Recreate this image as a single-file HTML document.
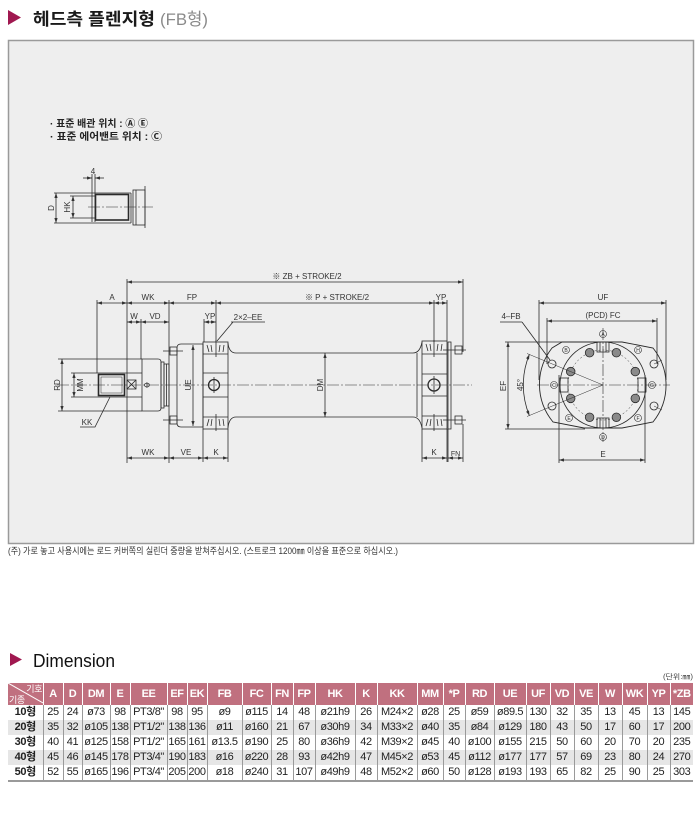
<!DOCTYPE html>
<html><head><meta charset="utf-8">
<style>
html,body{margin:0;padding:0;background:#fff;}
body{width:700px;height:840px;position:relative;overflow:hidden;font-family:"Liberation Sans","Noto Sans CJK KR",sans-serif;}
svg text{font-family:"Liberation Sans","Noto Sans CJK KR",sans-serif;}
.t{font-size:8px;fill:#333;stroke:none;text-anchor:middle;}
.d{marker-start:url(#a);marker-end:url(#a);}
.e{marker-end:url(#a);}
.c{stroke-dasharray:12 2 2 2;stroke-width:0.6;}
table{position:absolute;left:8px;top:683px;width:685px;border-collapse:collapse;table-layout:fixed;}
th{background:#c0707f;color:#fff;font-size:11px;font-weight:bold;height:22px;padding:0;border-right:1px solid #fff;text-align:center;letter-spacing:-0.4px;}
td{height:15px;padding:0;font-size:11px;line-height:15px;text-align:center;color:#222;border-right:1px solid #9a9a9a;white-space:nowrap;overflow:hidden;letter-spacing:-0.4px;}
td:first-child{font-weight:bold;}
tr.g td{background:#e6e6e6;}
tr.l td{border-bottom:2px solid #9a9a9a;}
th:last-child,td:last-child{border-right:none;}
</style></head>
<body>
<svg width="700" height="840" style="position:absolute;left:0;top:0" xmlns="http://www.w3.org/2000/svg">
<defs>
<marker id="a" viewBox="0 0 6 4" refX="6" refY="2" markerWidth="5" markerHeight="3.4" orient="auto-start-reverse" markerUnits="userSpaceOnUse"><path d="M0,0 L6,2 L0,4 z" fill="#333"/></marker>
</defs>

<!-- Title -->
<polygon points="8,10 21,17.5 8,25" fill="#a01850"/>
<text x="33" y="25" font-size="17" font-weight="bold" fill="#1a1a1a" textLength="122" lengthAdjust="spacingAndGlyphs">헤드측 플렌지형</text>
<text x="160" y="25" font-size="17" fill="#8a8a8a" textLength="48" lengthAdjust="spacingAndGlyphs">(FB형)</text>

<!-- Box -->
<rect x="8.5" y="40.5" width="685" height="503" fill="#eeeeee" stroke="#9a9a9a" stroke-width="1.5"/>

<!-- Notes in box -->
<text x="50" y="127" font-size="10" font-weight="bold" fill="#222" textLength="98" lengthAdjust="spacingAndGlyphs">· 표준 배관 위치 : Ⓐ Ⓔ</text>
<text x="50" y="140" font-size="10" font-weight="bold" fill="#222" textLength="112" lengthAdjust="spacingAndGlyphs">· 표준 에어밴트 위치 : Ⓒ</text>

<g stroke="#2a2a2a" stroke-width="0.8" fill="none">
<!-- aux drawing -->
<line class="e" x1="83" y1="178" x2="92" y2="178"/>
<line class="e" x1="104" y1="178" x2="95" y2="178"/>
<line x1="92" y1="174" x2="92" y2="222"/>
<line x1="95" y1="174" x2="95" y2="222"/>
<line x1="54" y1="193" x2="131" y2="193"/>
<line x1="54" y1="223" x2="131" y2="223"/>
<line class="d" x1="56" y1="193" x2="56" y2="223"/>
<line x1="70" y1="196" x2="95" y2="196"/>
<line x1="70" y1="218" x2="95" y2="218"/>
<line class="d" x1="73" y1="196" x2="73" y2="218"/>
<rect x="95.5" y="194.5" width="33" height="25.5" stroke-width="1.6"/>
<line x1="131" y1="193" x2="131" y2="223"/>
<rect x="133" y="190" width="12" height="35"/>
<line x1="136" y1="190" x2="136" y2="225"/>
<line x1="145" y1="186" x2="145" y2="228"/>
<line class="c" x1="88" y1="207" x2="153" y2="207"/>

<!-- main drawing -->
<line class="c" x1="57" y1="385" x2="472" y2="385"/>
<line class="d" x1="127" y1="282" x2="463" y2="282"/>
<line x1="127" y1="279" x2="127" y2="463"/>
<line x1="463" y1="279" x2="463" y2="352"/>
<line class="d" x1="97" y1="303" x2="127" y2="303"/>
<line x1="97" y1="300" x2="97" y2="373"/>
<line class="d" x1="127" y1="303" x2="169" y2="303"/>
<line x1="169" y1="300" x2="169" y2="463"/>
<line class="d" x1="169" y1="303" x2="216" y2="303"/>
<line x1="216" y1="300" x2="216" y2="342"/>
<line class="d" x1="216" y1="303" x2="434" y2="303"/>
<line class="d" x1="434" y1="303" x2="447" y2="303"/>
<line x1="434" y1="300" x2="434" y2="342"/>
<line x1="447" y1="300" x2="447" y2="341"/>
<line class="d" x1="127" y1="322" x2="141" y2="322"/>
<line class="d" x1="141" y1="322" x2="169" y2="322"/>
<line x1="141" y1="319" x2="141" y2="359"/>
<line class="d" x1="204" y1="322" x2="216" y2="322"/>
<line x1="204" y1="319" x2="204" y2="342"/>
<line x1="231" y1="322" x2="265" y2="322"/>
<line x1="233" y1="322" x2="217" y2="341"/>

<!-- rod -->
<line x1="97" y1="373" x2="142" y2="373"/>
<line x1="97" y1="397" x2="142" y2="397"/>
<rect x="98.5" y="374.5" width="26" height="21" stroke-width="1.6"/>
<rect x="101" y="377" width="21" height="16" stroke-width="0.5"/>
<rect x="127" y="380" width="9" height="9"/>
<path d="M127,380 L136,389 M136,380 L127,389"/>
<line x1="58" y1="359" x2="142" y2="359"/>
<line x1="58" y1="411" x2="142" y2="411"/>
<line class="d" x1="62" y1="359" x2="62" y2="411"/>
<line x1="71" y1="373" x2="97" y2="373"/>
<line x1="71" y1="397" x2="97" y2="397"/>
<line class="d" x1="74" y1="373" x2="74" y2="397"/>
<polyline points="110,397 95,427 80,427"/>
<!-- rod cover -->
<path d="M142,359 H158 Q161,359 161,362 V408 Q161,411 158,411 H142 Z"/>
<rect x="161" y="362" width="3" height="46"/>
<rect x="164" y="364" width="5" height="42"/>
<line x1="166.5" y1="364" x2="166.5" y2="406"/>
<rect x="170" y="347" width="7" height="8"/>
<rect x="170" y="416" width="7" height="8"/>
<line x1="163" y1="351" x2="183" y2="351"/>
<line x1="163" y1="420" x2="183" y2="420"/>
<path d="M181,344 H203 V427 H181 Q177,427 177,423 V348 Q177,344 181,344 Z"/>
<line class="d" x1="193" y1="345" x2="193" y2="426"/>
<!-- left flange -->
<rect x="203" y="342" width="25" height="87"/>
<line x1="203" y1="354" x2="228" y2="354"/>
<line x1="203" y1="417" x2="228" y2="417"/>
<line x1="203" y1="373" x2="228" y2="373"/>
<line x1="203" y1="397" x2="228" y2="397"/>
<circle cx="214" cy="385" r="5.5" stroke-width="1.3"/>
<line x1="214" y1="377" x2="214" y2="393"/>
<path d="M207,345 L209,352 M211,345 L212,352 M216,340 L216,357 M220,345 L219,352 M224,345 L223,352"/>
<path d="M207,426 L209,419 M211,426 L212,419 M216,414 L216,431 M220,426 L219,419 M224,426 L223,419"/>
<!-- tube -->
<path d="M228,343 Q229,353 236,353 H413 Q420,353 422,342"/>
<path d="M228,428 Q229,417 236,417 H413 Q420,417 422,428"/>
<line x1="417" y1="353" x2="417" y2="417"/>
<line class="d" x1="325" y1="353" x2="325" y2="417"/>
<!-- right flange -->
<rect x="422" y="341" width="25" height="88"/>
<line x1="422" y1="354" x2="447" y2="354"/>
<line x1="422" y1="416" x2="447" y2="416"/>
<line x1="422" y1="374" x2="447" y2="374"/>
<line x1="422" y1="396" x2="447" y2="396"/>
<circle cx="434" cy="385" r="6" stroke-width="1.3"/>
<line x1="434" y1="376" x2="434" y2="394"/>
<path d="M426,344 L428,351 M430,344 L431,351 M434,340 L434,357 M438,344 L437,351 M442,344 L441,351"/>
<path d="M426,426 L428,419 M430,426 L431,419 M434,414 L434,431 M438,426 L437,419 M442,426 L441,419"/>
<rect x="448" y="342" width="3" height="87"/>
<rect x="455" y="346" width="7" height="8"/>
<rect x="455" y="416" width="7" height="8"/>
<line x1="443" y1="350" x2="466" y2="350"/>
<line x1="443" y1="420" x2="466" y2="420"/>
<!-- bottom dims -->
<line x1="448" y1="429" x2="448" y2="462"/>
<line x1="463" y1="424" x2="463" y2="462"/>
<line class="d" x1="448" y1="458" x2="463" y2="458"/>
<line x1="422" y1="429" x2="422" y2="462"/>
<line x1="447" y1="429" x2="447" y2="462"/>
<line class="d" x1="422" y1="458" x2="447" y2="458"/>
<line class="d" x1="127" y1="458" x2="169" y2="458"/>
<line class="d" x1="169" y1="458" x2="203" y2="458"/>
<line class="d" x1="203" y1="458" x2="228" y2="458"/>
<line x1="203" y1="429" x2="203" y2="462"/>
<line x1="228" y1="429" x2="228" y2="462"/>

<!-- right view -->
<line class="d" x1="539" y1="303" x2="666" y2="303"/>
<line x1="539" y1="300" x2="539" y2="380"/>
<line x1="666" y1="300" x2="666" y2="380"/>
<line class="d" x1="547" y1="321" x2="657" y2="321"/>
<line x1="547" y1="318" x2="547" y2="364"/>
<line x1="657" y1="318" x2="657" y2="364"/>
<line x1="505" y1="342" x2="565" y2="342"/>
<line x1="505" y1="429" x2="585" y2="429"/>
<line class="d" x1="508" y1="342" x2="508" y2="429"/>
<line x1="500" y1="322" x2="522" y2="322"/>
<line x1="522" y1="322" x2="550" y2="360"/>
<path d="M562,342 L622,342 L653,348 A59,59 0 0 1 653,422 L622,428 L584,428 L553,422 A59,59 0 0 1 552,348 Z" stroke-width="0.9"/>
<circle cx="603" cy="385" r="43"/>
<circle cx="603" cy="385" r="35" stroke-dasharray="2 2" stroke-width="0.5"/>
<rect x="597" y="342" width="12" height="10"/>
<line x1="600" y1="342" x2="600" y2="352"/><line x1="606" y1="342" x2="606" y2="352"/>
<rect x="597" y="418" width="12" height="10"/>
<line x1="600" y1="418" x2="600" y2="428"/><line x1="606" y1="418" x2="606" y2="428"/>
<rect x="560" y="378" width="8" height="14"/>
<rect x="638" y="378" width="8" height="14"/>
<g fill="#8a8a8a">
<circle cx="635.3" cy="398.4" r="4.3"/><circle cx="616.4" cy="417.3" r="4.3"/>
<circle cx="589.6" cy="417.3" r="4.3"/><circle cx="570.7" cy="398.4" r="4.3"/>
<circle cx="570.7" cy="371.6" r="4.3"/><circle cx="589.6" cy="352.7" r="4.3"/>
<circle cx="616.4" cy="352.7" r="4.3"/><circle cx="635.3" cy="371.6" r="4.3"/>
</g>
<circle cx="552" cy="364" r="4"/><circle cx="552" cy="406" r="4"/>
<circle cx="654" cy="364" r="4"/><circle cx="654" cy="406" r="4"/>
<line x1="603" y1="385" x2="527" y2="353.5" stroke-width="0.5"/>
<line x1="603" y1="385" x2="527" y2="416.5" stroke-width="0.5"/>
<line x1="654" y1="364" x2="662" y2="360" stroke-width="0.5"/>
<line x1="654" y1="406" x2="662" y2="410" stroke-width="0.5"/>
<path class="d" d="M529.4,354.4 A80,80 0 0 0 529.4,415.6"/>
<line class="c" x1="537" y1="385" x2="670" y2="385"/>
<line class="c" x1="603" y1="328" x2="603" y2="442"/>
<line x1="559" y1="375" x2="559" y2="463"/>
<line x1="645" y1="375" x2="645" y2="463"/>
<line class="d" x1="559" y1="460" x2="645" y2="460"/>
<g stroke-width="0.6">
<circle cx="603" cy="334" r="3.5"/><circle cx="603" cy="437" r="3.5"/>
<circle cx="554" cy="385" r="3.5"/><circle cx="652" cy="385" r="3.5"/>
<circle cx="566" cy="350" r="3.5"/><circle cx="638" cy="350" r="3.5"/>
<circle cx="569" cy="418" r="3.5"/><circle cx="638" cy="418" r="3.5"/>
</g>
</g>

<!-- labels -->
<g class="t">
<text class="t" x="93" y="174">4</text>
<text class="t" transform="translate(51,208) rotate(-90)" dy="3">D</text>
<text class="t" transform="translate(67,207) rotate(-90)" dy="3">HK</text>
<text class="t" x="307" y="279">※ ZB + STROKE/2</text>
<text class="t" x="112" y="300">A</text>
<text class="t" x="148" y="300">WK</text>
<text class="t" x="192" y="300">FP</text>
<text class="t" x="337" y="300">※ P + STROKE/2</text>
<text class="t" x="441" y="300">YP</text>
<text class="t" x="134" y="319">W</text>
<text class="t" x="155" y="319">VD</text>
<text class="t" x="210" y="319">YP</text>
<text class="t" x="248" y="320">2×2–EE</text>
<text class="t" transform="translate(57,385) rotate(-90)" dy="3">RD</text>
<text class="t" transform="translate(80,385) rotate(-90)" dy="3">MM</text>
<text class="t" x="87" y="425">KK</text>
<text class="t" x="147" y="388">Φ</text>
<text class="t" transform="translate(188,385) rotate(-90)" dy="3">UE</text>
<text class="t" transform="translate(320,385) rotate(-90)" dy="3">DM</text>
<text class="t" x="148" y="455">WK</text>
<text class="t" x="186" y="455">VE</text>
<text class="t" x="216" y="455">K</text>
<text class="t" x="434" y="455">K</text>
<text class="t" x="455.5" y="456" style="font-size:7px">FN</text>
<text class="t" x="603" y="300">UF</text>
<text class="t" x="603" y="318">(PCD) FC</text>
<text class="t" x="511" y="319">4–FB</text>
<text class="t" transform="translate(503,386) rotate(-90)" dy="3">EF</text>
<text class="t" transform="translate(520,385) rotate(-90)" dy="3">45°</text>
<text class="t" x="603" y="457">E</text>
<g style="font-size:5px">
<text class="t" x="603" y="335.8" style="font-size:5px">A</text>
<text class="t" x="603" y="438.8" style="font-size:5px">D</text>
<text class="t" x="554" y="386.8" style="font-size:5px">C</text>
<text class="t" x="652" y="386.8" style="font-size:5px">G</text>
<text class="t" x="566" y="351.8" style="font-size:5px">B</text>
<text class="t" x="638" y="351.8" style="font-size:5px">H</text>
<text class="t" x="569" y="419.8" style="font-size:5px">E</text>
<text class="t" x="638" y="419.8" style="font-size:5px">F</text>
</g>
</g>

<!-- note -->
<text x="8" y="554" font-size="9" fill="#333" textLength="390" lengthAdjust="spacingAndGlyphs">(주) 가로 놓고 사용시에는 로드 커버쪽의 실린더 중량을 받쳐주십시오. (스트로크 1200㎜ 이상을 표준으로 하십시오.)</text>

<!-- Dimension title -->
<polygon points="10,653 22,659.5 10,666" fill="#a01850"/>
<text x="33" y="667" font-size="18" fill="#111" textLength="82" lengthAdjust="spacingAndGlyphs">Dimension</text>
<text x="663" y="679" font-size="7" fill="#444" textLength="30" lengthAdjust="spacingAndGlyphs">(단위:㎜)</text>
</svg>

<table>
<colgroup>
<col style="width:35px"><col style="width:20px"><col style="width:19px"><col style="width:28px"><col style="width:20px"><col style="width:37px"><col style="width:20px"><col style="width:20px"><col style="width:35px"><col style="width:29px"><col style="width:22px"><col style="width:22px"><col style="width:40px"><col style="width:22px"><col style="width:40px"><col style="width:26px"><col style="width:22px"><col style="width:29px"><col style="width:32px"><col style="width:24px"><col style="width:24px"><col style="width:24px"><col style="width:24px"><col style="width:25px"><col style="width:23px"><col style="width:23px">
</colgroup>
<tr>
<th style="position:relative;overflow:hidden"><svg width="35" height="22" style="position:absolute;left:0;top:0"><line x1="0" y1="0" x2="35" y2="20" stroke="#fff" stroke-width="1"/><text x="34" y="9" font-size="9" fill="#fff" text-anchor="end" font-weight="normal">기호</text><text x="1" y="20" font-size="9" fill="#fff" font-weight="normal">기종</text></svg></th>
<th>A</th><th>D</th><th>DM</th><th>E</th><th>EE</th><th>EF</th><th>EK</th><th>FB</th><th>FC</th><th>FN</th><th>FP</th><th>HK</th><th>K</th><th>KK</th><th>MM</th><th>*P</th><th>RD</th><th>UE</th><th>UF</th><th>VD</th><th>VE</th><th>W</th><th>WK</th><th>YP</th><th>*ZB</th>
</tr>
<tr><td>10형</td><td>25</td><td>24</td><td>ø73</td><td>98</td><td>PT3/8"</td><td>98</td><td>95</td><td>ø9</td><td>ø115</td><td>14</td><td>48</td><td>ø21h9</td><td>26</td><td>M24×2</td><td>ø28</td><td>25</td><td>ø59</td><td>ø89.5</td><td>130</td><td>32</td><td>35</td><td>13</td><td>45</td><td>13</td><td>145</td></tr>
<tr class="g"><td>20형</td><td>35</td><td>32</td><td>ø105</td><td>138</td><td>PT1/2"</td><td>138</td><td>136</td><td>ø11</td><td>ø160</td><td>21</td><td>67</td><td>ø30h9</td><td>34</td><td>M33×2</td><td>ø40</td><td>35</td><td>ø84</td><td>ø129</td><td>180</td><td>43</td><td>50</td><td>17</td><td>60</td><td>17</td><td>200</td></tr>
<tr><td>30형</td><td>40</td><td>41</td><td>ø125</td><td>158</td><td>PT1/2"</td><td>165</td><td>161</td><td>ø13.5</td><td>ø190</td><td>25</td><td>80</td><td>ø36h9</td><td>42</td><td>M39×2</td><td>ø45</td><td>40</td><td>ø100</td><td>ø155</td><td>215</td><td>50</td><td>60</td><td>20</td><td>70</td><td>20</td><td>235</td></tr>
<tr class="g"><td>40형</td><td>45</td><td>46</td><td>ø145</td><td>178</td><td>PT3/4"</td><td>190</td><td>183</td><td>ø16</td><td>ø220</td><td>28</td><td>93</td><td>ø42h9</td><td>47</td><td>M45×2</td><td>ø53</td><td>45</td><td>ø112</td><td>ø177</td><td>177</td><td>57</td><td>69</td><td>23</td><td>80</td><td>24</td><td>270</td></tr>
<tr class="l"><td>50형</td><td>52</td><td>55</td><td>ø165</td><td>196</td><td>PT3/4"</td><td>205</td><td>200</td><td>ø18</td><td>ø240</td><td>31</td><td>107</td><td>ø49h9</td><td>48</td><td>M52×2</td><td>ø60</td><td>50</td><td>ø128</td><td>ø193</td><td>193</td><td>65</td><td>82</td><td>25</td><td>90</td><td>25</td><td>303</td></tr>
</table>
</body></html>
